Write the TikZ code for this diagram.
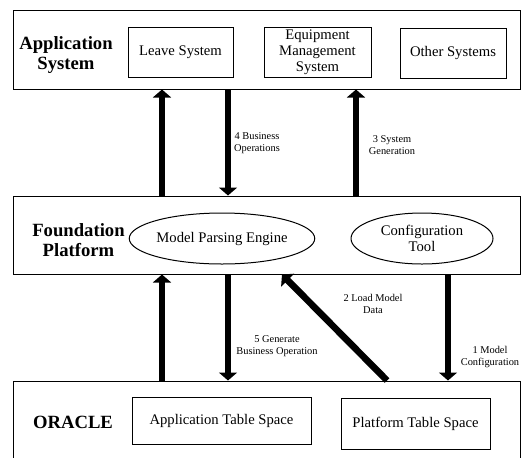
\documentclass[tikz,border=0pt]{standalone}
\usepackage{fontspec}
\setmainfont{Liberation Serif}
\usetikzlibrary{arrows.meta,shapes.geometric}

\begin{document}
\begin{tikzpicture}[x=0.75pt,y=0.75pt,yscale=-1,xscale=1,
  layer/.style={draw,line width=0.75,inner sep=0pt,minimum width=380.25pt},
  sysbox/.style={draw,line width=0.75,align=center,inner sep=1pt,font=\fontsize{11}{12}\selectfont},
  engine/.style={draw,ellipse,line width=0.75,align=center,inner sep=0pt,minimum height=38.25pt,font=\fontsize{11}{12}\selectfont},
  tagtext/.style={align=center,font=\fontsize{14}{15}\selectfont\bfseries},
  steptext/.style={align=center,font=\fontsize{7.8}{9}\selectfont},
  bigarrow/.style={line width=5pt,-{Triangle[width=13.5pt,length=6pt]}}]
\useasboundingbox (0,0) rectangle (527,457);

% layers
\node[layer,minimum height=59.25pt] (appLayer) at (266.5,49.5) {};
\node[layer,minimum height=58.5pt] (baseLayer) at (266.5,235) {};
\node[layer,minimum height=66.75pt] (dbLayer) at (266.5,425.5) {};

\node[tagtext] (appTag) at (66,55) {Application\\System};
\node[tagtext] (baseTag) at (78.5,240) {Foundation\\Platform};
\node[tagtext] (dbTag) at (73,422) {ORACLE};

% boxes inside the layers
\node[sysbox,minimum width=78.75pt,minimum height=37.5pt] (leaveSys) at (180.5,52) {Leave System};
\node[sysbox,minimum width=80.25pt,minimum height=37.5pt] (equipSys) at (317.5,52) {Equipment\\Management\\System};
\node[sysbox,minimum width=79.5pt,minimum height=37.5pt] (otherSys) at (453,53) {Other Systems};
\node[engine,minimum width=135pt] (parser) at (222,238.5) {Model Parsing Engine};
\node[engine,minimum width=106.5pt] (configTool) at (422,238.5) {Configuration\\Tool};
\node[sysbox,minimum width=134.25pt,minimum height=35.25pt] (appSpace) at (221.5,420.5) {Application Table Space};
\node[sysbox,minimum width=111.75pt,minimum height=38.25pt] (baseSpace) at (415.5,423.5) {Platform Table Space};

% arrow columns
\coordinate (colA) at (162,0);
\coordinate (colB) at (228,0);
\coordinate (colC) at (356,0);
\coordinate (colD) at (448,0);
\coordinate (diagFoot) at (387,0);
\coordinate (diagHead) at (282,0);

\draw[bigarrow] (baseLayer.north -| colA) -- (appLayer.south -| colA);
\draw[bigarrow] (appLayer.south -| colB) -- (baseLayer.north -| colB);
\draw[bigarrow] (baseLayer.north -| colC) -- (appLayer.south -| colC);
\draw[bigarrow] (dbLayer.north -| colA) -- (baseLayer.south -| colA);
\draw[bigarrow] (baseLayer.south -| colB) -- (dbLayer.north -| colB);
\draw[bigarrow] (dbLayer.north -| diagFoot) -- (baseLayer.south -| diagHead);
\draw[bigarrow] (baseLayer.south -| colD) -- (dbLayer.north -| colD);

% step labels
\node[steptext] (stepFour) at (257,143) {4 Business\\Operations};
\node[steptext] (stepThree) at (392,145) {3 System\\Generation};
\node[steptext] (stepTwo) at (373,304) {2 Load Model\\Data};
\node[steptext] (stepFive) at (277,346) {5 Generate\\Business Operation};
\node[steptext] (stepOne) at (490,357) {1 Model\\Configuration};
\end{tikzpicture}
\end{document}
